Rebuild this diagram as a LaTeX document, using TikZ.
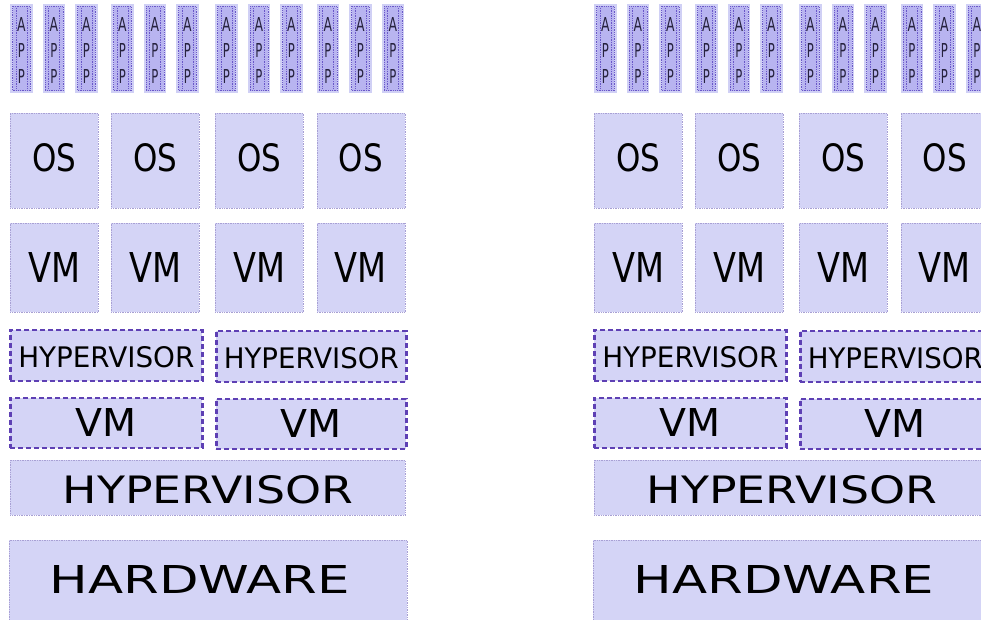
\documentclass[tikz,border=0pt]{standalone}
\usepackage{fontspec}
\setmainfont{DejaVu Sans}
\usepackage{graphicx}
\definecolor{boxfill}{HTML}{D4D4F6}
\definecolor{thinline}{HTML}{A8A0D4}
\definecolor{dashline}{HTML}{5E40B4}
\definecolor{appouter}{HTML}{D0D0F5}
\definecolor{appinner}{HTML}{B8B4F0}
\definecolor{appdot}{HTML}{6A58C8}
\definecolor{apptext}{HTML}{26223E}
\begin{document}
\begin{tikzpicture}[x=1pt,y=-1pt,
  layerbox/.style={fill=boxfill, draw=thinline, densely dotted, line width=0.7pt, inner sep=0pt, anchor=north west},
  dashbox/.style={fill=boxfill, draw=dashline, dash pattern=on 5pt off 3pt, line width=2.6pt, inner sep=0pt, anchor=north west},
  appbox/.style={fill=appouter, draw=none, inner sep=0pt, anchor=north west, minimum width=22.5pt, minimum height=89pt},
  appin/.style={fill=appinner, draw=appdot, densely dotted, line width=0.8pt},
  appletter/.style={inner sep=0pt, text=apptext},
  lbl/.style={inner sep=0pt, text=black}]
\useasboundingbox (0,0) rectangle (981,620);
\clip (0,0) rectangle (981,620);
\fill[white] (0,0) rectangle (981,620);
\foreach \s [count=\si] in {0,584} {
  % APP boxes
  \foreach \g [count=\gi] in {10,111,215,316.5} {
    \foreach \k [count=\ki] in {0,32.5,65} {
      \node[appbox] (app\si\gi\ki) at (\s+\g+\k,4) {};
      \draw[appin] ([xshift=2.5pt,yshift=-2.5pt]app\si\gi\ki.north west) rectangle ([xshift=-2.5pt,yshift=2.5pt]app\si\gi\ki.south east);
      \draw[appdot, densely dotted, line width=0.7pt] ([xshift=6pt,yshift=-4pt]app\si\gi\ki.north west) -- ([xshift=6pt,yshift=4pt]app\si\gi\ki.south west);
      \draw[appdot, densely dotted, line width=0.7pt] ([xshift=-6pt,yshift=-4pt]app\si\gi\ki.north east) -- ([xshift=-6pt,yshift=4pt]app\si\gi\ki.south east);
      \node[appletter] (appA\si\gi\ki) at ([yshift=-21pt]app\si\gi\ki.north) {\resizebox{8.5pt}{14pt}{A}};
      \node[appletter] (appP\si\gi\ki) at ([yshift=-47pt]app\si\gi\ki.north) {\resizebox{7pt}{14pt}{P}};
      \node[appletter] (appQ\si\gi\ki) at ([yshift=-73pt]app\si\gi\ki.north) {\resizebox{7pt}{14pt}{P}};
    }
    % OS and VM
    \node[layerbox, minimum width=88pt, minimum height=95pt] (os\si\gi) at (\s+\g,113) {};
    \node[lbl] (ost\si\gi) at ([yshift=3pt]os\si\gi.center) {\resizebox{44pt}{28pt}{OS}};
    \node[layerbox, minimum width=88pt, minimum height=89pt] (vm\si\gi) at (\s+\g,223) {};
    \node[lbl] (vmt\si\gi) at (vm\si\gi.center) {\resizebox{52pt}{30pt}{VM}};
  }
  % nested hypervisors and VMs
  \node[dashbox, minimum width=192pt, minimum height=51pt] (hypa\si) at (\s+9,328.5) {};
  \node[lbl] (hypat\si) at ([yshift=-1.5pt]hypa\si.center) {\resizebox{176pt}{21pt}{HYPERVISOR}};
  \node[dashbox, minimum width=190pt, minimum height=51pt] (hypb\si) at (\s+215,329.5) {};
  \node[lbl] (hypbt\si) at ([yshift=-1.5pt]hypb\si.center) {\resizebox{175pt}{21pt}{HYPERVISOR}};
  \node[dashbox, minimum width=192pt, minimum height=50pt] (nvma\si) at (\s+9,396.5) {};
  \node[lbl] (nvmat\si) at (nvma\si.center) {\resizebox{61pt}{28pt}{VM}};
  \node[dashbox, minimum width=190pt, minimum height=50pt] (nvmb\si) at (\s+215,397.5) {};
  \node[lbl] (nvmbt\si) at (nvmb\si.center) {\resizebox{61pt}{28pt}{VM}};
  % base hypervisor and hardware
  \node[layerbox, minimum width=395pt, minimum height=55pt] (hyp\si) at (\s+10,460) {};
  \node[lbl] (hypt\si) at ([yshift=-1.5pt]hyp\si.center) {\resizebox{290pt}{28pt}{HYPERVISOR}};
  \node[layerbox, minimum width=398pt, minimum height=84pt] (hw\si) at (\s+9,540) {};
  \node[lbl] (hwt\si) at (\s+200,579) {\resizebox{300pt}{28pt}{HARDWARE}};
}
\end{tikzpicture}
\end{document}
